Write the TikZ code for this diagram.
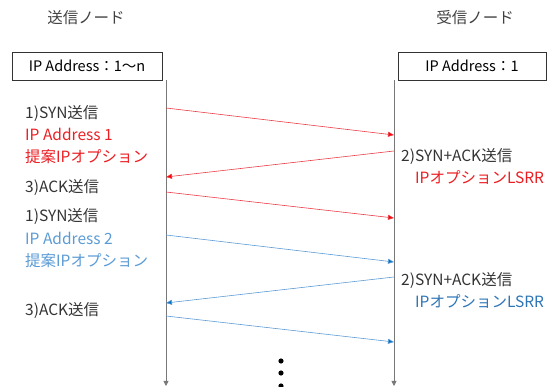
\documentclass[tikz,border=0pt]{standalone}
\usepackage{fontspec}
\setmainfont{Noto Sans CJK JP}
\usetikzlibrary{arrows.meta}
\definecolor{myred}{RGB}{235,30,35}
\definecolor{redline}{RGB}{235,60,70}
\definecolor{myblue}{RGB}{91,155,213}
\definecolor{darkblue}{RGB}{46,117,182}
\definecolor{tipblue}{RGB}{0,112,192}
\definecolor{lifegray}{RGB}{120,120,120}
\tikzset{
  lbl/.style={anchor=west, inner sep=0pt, font=\fontsize{15.5}{17}\selectfont, text=black!80},
  hdr/.style={inner sep=0pt, font=\fontsize{15.5}{17}\selectfont, text=black!75},
  addrbox/.style={draw=black!80, line width=0.8pt, minimum height=28pt, inner sep=0pt, font=\fontsize{14.5}{16}\selectfont},
  life/.style={draw=lifegray, line width=0.8pt, -{Triangle[width=5pt,length=5pt]}, shorten >=0pt},
  redmsg/.style={draw=redline, line width=0.6pt, -{Triangle[width=5pt,length=6pt,fill=red]}},
  bluemsg/.style={draw=myblue, line width=0.6pt, -{Triangle[width=5pt,length=6pt,fill=tipblue]}},
}
\begin{document}
\begin{tikzpicture}[x=1pt,y=-1pt]
\useasboundingbox (0,0) rectangle (547,387);
\node[hdr] (hs) at (86,18) {送信ノード};
\node[hdr] (hr) at (475,18) {受信ノード};
\node[addrbox, minimum width=150pt] (bs) at (87,66) {IP Address：1〜n};
\node[addrbox, minimum width=148pt] (br) at (472,66) {IP Address：1};
\coordinate (st) at (166,80);
\coordinate (sb) at (166,386);
\coordinate (rt) at (394,80);
\coordinate (rb) at (394,386);
\draw[life] (st) -- (sb);
\draw[life] (rt) -- (rb);
% messages
\coordinate (a1) at (166,108); \coordinate (b1) at (394,135);
\coordinate (a2) at (394,151); \coordinate (b2) at (166,177);
\coordinate (a3) at (166,192); \coordinate (b3) at (394,218);
\coordinate (a4) at (166,235); \coordinate (b4) at (394,262);
\coordinate (a5) at (394,277); \coordinate (b5) at (166,303);
\coordinate (a6) at (166,316); \coordinate (b6) at (394,342);
\draw[redmsg] (a1) -- (b1);
\draw[redmsg] (a2) -- (b2);
\draw[redmsg] (a3) -- (b3);
\draw[bluemsg] (a4) -- (b4);
\draw[bluemsg] (a5) -- (b5);
\draw[bluemsg] (a6) -- (b6);
% left labels
\node[lbl] (l1) at (25,114) {1)SYN送信};
\node[lbl, text=myred] (l2) at (25,134) {IP Address 1};
\node[lbl, text=myred] (l3) at (25,157) {提案IPオプション};
\node[lbl] (l4) at (25,188) {3)ACK送信};
\node[lbl] (l5) at (25,217) {1)SYN送信};
\node[lbl, text=myblue] (l6) at (25,238) {IP Address 2};
\node[lbl, text=myblue] (l7) at (25,261) {提案IPオプション};
\node[lbl] (l8) at (25,311) {3)ACK送信};
% right labels
\node[lbl] (r1) at (401,157) {2)SYN+ACK送信};
\node[lbl, text=myred] (r2) at (415,177) {IPオプションLSRR};
\node[lbl] (r3) at (401,281) {2)SYN+ACK送信};
\node[lbl, text=darkblue] (r4) at (415,301) {IPオプションLSRR};
% dots
\fill (281,361) circle (2.6pt);
\fill (281,373) circle (2.6pt);
\fill (281,386) circle (2.6pt);
\end{tikzpicture}
\end{document}
